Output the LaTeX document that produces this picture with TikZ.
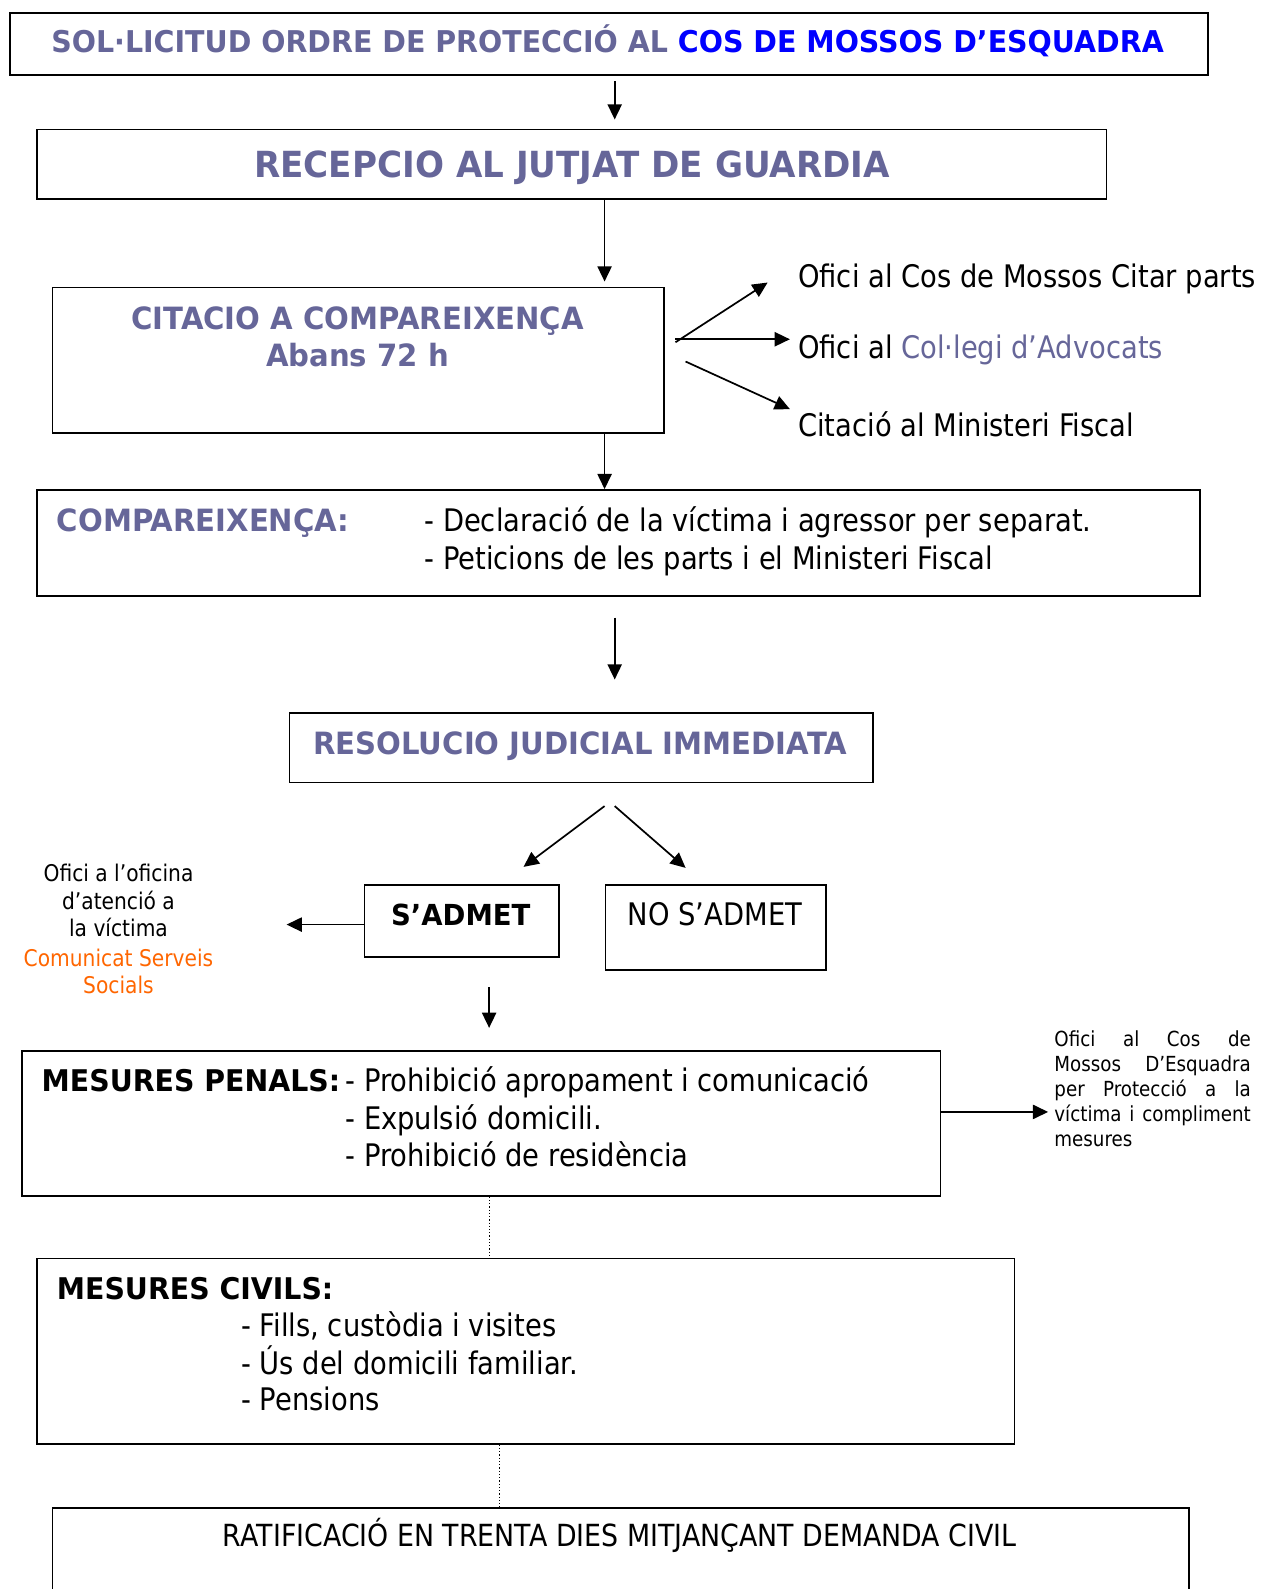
\documentclass[tikz,border=0pt]{standalone}
\usepackage{fontspec}
\setmainfont{DejaVu Sans}[FakeStretch=0.88]
\newfontfamily\bd{DejaVu Sans}[FakeStretch=0.95]
\usetikzlibrary{arrows.meta}
\definecolor{gb}{HTML}{666699}
\definecolor{bl}{HTML}{0000FF}
\definecolor{org}{HTML}{FF6600}
\tikzset{
  box/.style={draw, line width=1.6pt, inner sep=0pt, anchor=north west},
  arr/.style={-{Triangle[length=15pt,width=14pt]}, line width=1.7pt},
  dotline/.style={line width=1.2pt, dotted},
  tl/.style={inner sep=0pt, anchor=base west},
  tc/.style={inner sep=0pt, anchor=base},
  hb/.style={font=\bd\bfseries\fontsize{30.3}{36}\selectfont},
  kb/.style={font=\bd\bfseries\fontsize{29.5}{36}\selectfont},
  rg/.style={font=\fontsize{30.7}{37}\selectfont},
  sm/.style={font=\fontsize{22.7}{27}\selectfont},
  xs/.style={font=\fontsize{20.5}{25}\selectfont},
}
\begin{document}
\begin{tikzpicture}[x=1pt,y=-1pt]
\useasboundingbox[fill=white] (0,0) rectangle (1244.3,1569.1);
% boxes
\node[box, minimum width=1183pt, minimum height=61pt] (b1) at (9,12) {};
\node[box, minimum width=1056pt, minimum height=69pt] (b2) at (36,127) {};
\node[box, minimum width=604pt, minimum height=144pt] (b3) at (51,283) {};
\node[box, minimum width=1148pt, minimum height=105pt] (b4) at (36,483) {};
\node[box, minimum width=576pt, minimum height=69pt] (b5) at (285,703) {};
\node[box, minimum width=192pt, minimum height=71pt] (b6) at (359,873) {};
\node[box, minimum width=218pt, minimum height=84pt] (b7) at (597,873) {};
\node[box, minimum width=907pt, minimum height=143pt] (b8) at (21,1037) {};
\node[box, minimum width=965pt, minimum height=183pt] (b9) at (36,1242) {};
\node[box, minimum width=1122pt, minimum height=130pt] (b10) at (51,1488) {};
% texts
\node[tc, font=\bd\bfseries\fontsize{29.6}{36}\selectfont] (t1) at (600,52) {\color{gb}SOL·LICITUD ORDRE DE PROTECCIÓ AL \color{bl}COS DE MOSSOS D’ESQUADRA};
\node[tc, font=\bd\bfseries\fontsize{35.5}{40}\selectfont, text=gb] (t2) at (565,175) {RECEPCIO AL JUTJAT DE GUARDIA};
\node[tc, hb, text=gb] (t3a) at (353,325) {CITACIO A COMPAREIXENÇA};
\node[tc, hb, text=gb] (t3b) at (353,362) {Abans 72 h};
\node[tl, rg] (r1) at (788,284) {Ofici al Cos de Mossos Citar parts};
\node[tl, rg] (r2) at (788,354) {Ofici al {\color{gb}Col·legi d’Advocats}};
\node[tl, rg] (r3) at (788,431) {Citació al Ministeri Fiscal};
\node[tl, hb, text=gb] (t4) at (56,525) {COMPAREIXENÇA:};
\node[tl, rg] (t4b) at (419,525) {- Declaració de la víctima i agressor per separat.};
\node[tl, rg] (t4c) at (419,562) {- Peticions de les parts i el Ministeri Fiscal};
\node[tc, hb, text=gb] (t5) at (573,745) {RESOLUCIO JUDICIAL IMMEDIATA};
\node[tc, font=\bd\bfseries\fontsize{28.6}{36}\selectfont] (t6) at (455,914) {S’ADMET};
\node[tc, rg] (t7) at (706,914) {NO S’ADMET};
\node[tc, sm] (l1) at (117,870) {Ofici a l’oficina};
\node[tc, sm] (l2) at (117,898) {d’atenció a};
\node[tc, sm] (l3) at (117,925) {la víctima};
\node[tc, sm, text=org] (l4) at (117,954) {Comunicat Serveis};
\node[tc, sm, text=org] (l5) at (117,981) {Socials};
\node[tl, kb] (t8) at (41,1078) {MESURES PENALS:};
\node[tl, rg] (p1) at (341,1078) {- Prohibició apropament i comunicació};
\node[tl, rg] (p2) at (341,1115) {- Expulsió domicili.};
\node[tl, rg] (p3) at (341,1152) {- Prohibició de residència};
\node[tl, xs] (m1) at (1041,1033) {\hbox to 194pt{Ofici\hfill al\hfill Cos\hfill de}};
\node[tl, xs] (m2) at (1041,1058) {\hbox to 194pt{Mossos\hfill D’Esquadra}};
\node[tl, xs] (m3) at (1041,1083) {\hbox to 194pt{per\hfill Protecció\hfill a\hfill la}};
\node[tl, xs] (m4) at (1041,1107) {\hbox to 194pt{víctima\hfill i\hfill compliment}};
\node[tl, xs] (m5) at (1041,1132) {mesures};
\node[tl, kb] (t9) at (56,1283) {MESURES CIVILS:};
\node[tl, rg] (c1) at (238,1320) {- Fills, custòdia i visites};
\node[tl, rg] (c2) at (238,1357) {- Ús del domicili familiar.};
\node[tl, rg] (c3) at (238,1393) {- Pensions};
\node[tc, font=\fontsize{30.1}{37}\selectfont] (t10) at (612,1527) {RATIFICACIÓ EN TRENTA DIES MITJANÇANT DEMANDA CIVIL};
% connector points
\coordinate (a1s) at (607,80);
\coordinate (a2x) at (597,0);
\coordinate (s1) at (667,338);
\coordinate (e1) at (758,279);
\coordinate (s2) at (667,335);
\coordinate (e2) at (780,335);
\coordinate (s3) at (677,357);
\coordinate (e3) at (780,404);
\coordinate (a4s) at (607,610);
\coordinate (a4e) at (607,671);
\coordinate (a5s) at (597,796);
\coordinate (a5e) at (517,856);
\coordinate (a6s) at (607,796);
\coordinate (a6e) at (677,857);
\coordinate (a7e) at (283,913);
\coordinate (a8s) at (483,975);
\coordinate (a8e) at (483,1015);
\coordinate (a9e) at (1035,1098);
\coordinate (d1x) at (483,0);
\coordinate (d2x) at (493,0);
% connectors
\draw[arr, shorten >=9pt] (a1s) -- (a1s |- b2.north);
\draw[arr, shorten >=5pt] (a2x |- b2.south) -- (a2x |- b3.north);
\draw[arr] (s1) -- (e1);
\draw[arr] (s2) -- (e2);
\draw[arr] (s3) -- (e3);
\draw[arr] (a2x |- b3.south) -- (a2x |- b4.north);
\draw[arr] (a4s) -- (a4e);
\draw[arr] (a5s) -- (a5e);
\draw[arr] (a6s) -- (a6e);
\draw[arr] (a7e -| b6.west) -- (a7e);
\draw[arr] (a8s) -- (a8e);
\draw[arr] (a9e -| b8.east) -- (a9e);
\draw[dotline] (d1x |- b8.south) -- (d1x |- b9.north);
\draw[dotline] (d2x |- b9.south) -- (d2x |- b10.north);
\end{tikzpicture}
\end{document}
